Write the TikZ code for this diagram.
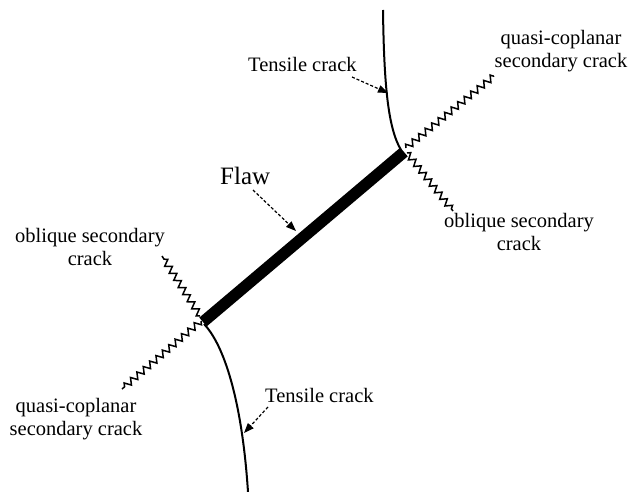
\documentclass[tikz,border=0pt]{standalone}
\usepackage{fontspec}
\setmainfont{Liberation Serif}
\usetikzlibrary{decorations.pathmorphing,arrows.meta}
\begin{document}
\begin{tikzpicture}[x=1pt,y=-1pt,
  lbl/.style={inner sep=0pt,align=center,font=\fontsize{20.5}{23}\selectfont},
  flawlbl/.style={inner sep=0pt,font=\fontsize{25}{28}\selectfont},
  tensile/.style={line width=2pt},
  zz/.style={line width=1.5pt,decorate,decoration={zigzag,amplitude=3.2pt,segment length=8.4pt}},
  flawline/.style={line width=11.5pt,line cap=butt},
  pointer/.style={line width=1.2pt,dash pattern=on 3pt off 2pt,-{Triangle[length=10pt,width=7.5pt]}}]
\useasboundingbox (0,0) rectangle (632,492);
% flaw ends
\coordinate (fa) at (203,322);
\coordinate (fb) at (404,152);
% cracks
\coordinate (ut) at (383,10);
\coordinate (lt) at (248,492);
\draw[tensile] (401,150) .. controls (388,128) and (384,85) .. (ut);
\draw[tensile] (204,324) .. controls (224,345) and (242,400) .. (lt);
\coordinate (uq) at (494,76);
\coordinate (uo) at (453,211);
\coordinate (lo) at (162,256);
\coordinate (lq) at (122,389);
\draw[zz] (406,148) -- (uq);
\draw[zz] (407,153) -- (uo);
\draw[zz] (200,316) -- (lo);
\draw[zz] (201,321) -- (lq);
\draw[flawline] (fa) -- (fb);
% labels
\node[lbl,anchor=base west] (tc1) at (248,72) {Tensile crack};
\node[lbl,anchor=base] (qc1) at (561,68) {quasi-coplanar\\secondary crack};
\node[lbl,anchor=base] (os1) at (519,250) {oblique secondary\\crack};
\node[flawlbl,anchor=base west] (fl) at (220,185) {Flaw};
\node[lbl,anchor=base] (os2) at (90,265) {oblique secondary\\crack};
\node[lbl,anchor=base] (qc2) at (76,435) {quasi-coplanar\\secondary crack};
\node[lbl,anchor=base west] (tc2) at (265,402) {Tensile crack};
% pointers
\coordinate (p1s) at (352,77);
\coordinate (p1e) at (388,93);
\coordinate (p2s) at (253,190);
\coordinate (p2e) at (296,231);
\coordinate (p3s) at (268,407);
\coordinate (p3e) at (244,433);
\draw[pointer] (p1s) -- (p1e);
\draw[pointer] (p2s) -- (p2e);
\draw[pointer] (p3s) -- (p3e);
\end{tikzpicture}
\end{document}
